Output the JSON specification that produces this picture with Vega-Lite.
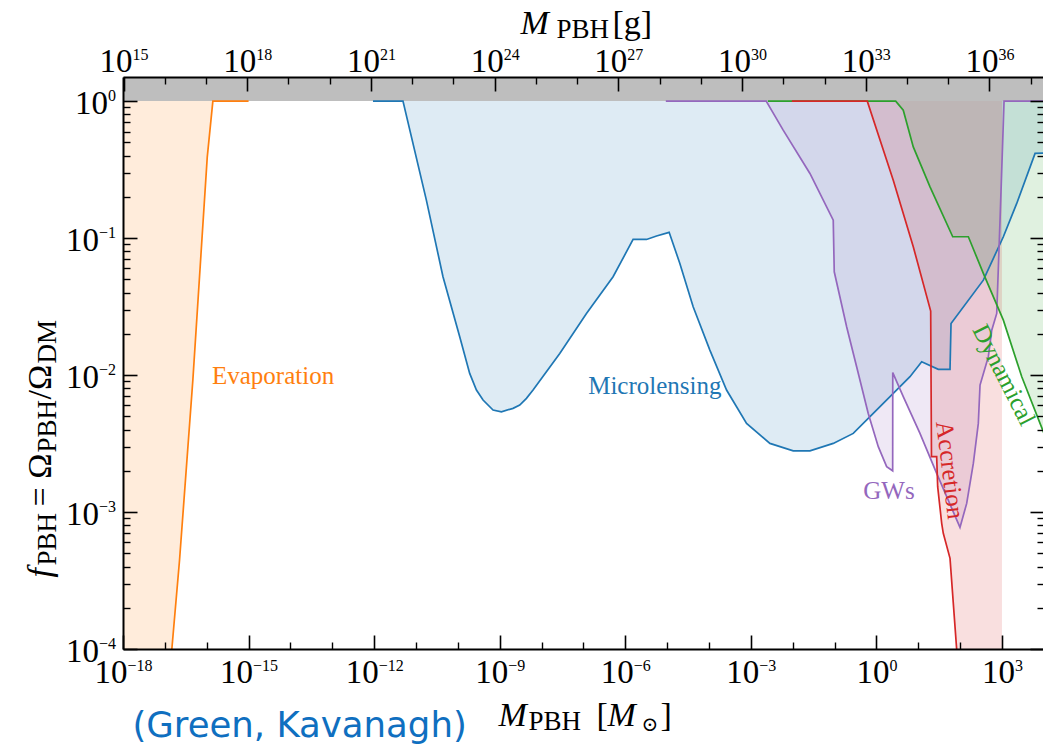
{
  "$schema": "https://vega.github.io/schema/vega-lite/v6.json",
  "width": 921,
  "height": 572,
  "autosize": {"type": "none"},
  "padding": {"left": 123, "top": 77, "right": 0, "bottom": 101},
  "background": "white",
  "config": {"view": {"stroke": null}},
  "datasets": {
    "band": [{"m0": 1e-18, "m1": 1.01e4, "f0": 1, "f1": 1.5}],
    "dummy": [{"m": 1, "f": 0.01}],
    "gdummy": [{"g": 1e20}],
    "labels": [
      {"c": "Evaporation", "m": 3.855e-15, "f": 9.84e-3},
      {"c": "Microlensing", "m": 5.082e-6, "f": 8.318e-3},
      {"c": "GWs", "m": 1.995, "f": 1.422e-3},
      {"c": "Accretion", "m": 57.41, "f": 2.028e-3},
      {"c": "Dynamical", "m": 1119, "f": 0.01}
    ],
    "curves": [
      {"c": "Evaporation", "m": 1e-18, "f": 1e-8},
      {"c": "Evaporation", "m": 1.469e-17, "f": 1e-4},
      {"c": "Evaporation", "m": 2.244e-17, "f": 4.467e-4},
      {"c": "Evaporation", "m": 4.667e-17, "f": 9.204e-3},
      {"c": "Evaporation", "m": 1.03e-16, "f": 0.39},
      {"c": "Evaporation", "m": 1.403e-16, "f": 1},
      {"c": "Evaporation", "m": 1e-15, "f": 1},
      {"c": "Microlensing", "m": 9.376e-13, "f": 1},
      {"c": "Microlensing", "m": 4.887e-12, "f": 1},
      {"c": "Microlensing", "m": 1.77e-11, "f": 0.1892},
      {"c": "Microlensing", "m": 4.416e-11, "f": 0.05224},
      {"c": "Microlensing", "m": 1.109e-10, "f": 0.01905},
      {"c": "Microlensing", "m": 1.919e-10, "f": 0.01028},
      {"c": "Microlensing", "m": 2.78e-10, "f": 7.78e-3},
      {"c": "Microlensing", "m": 4.0e-10, "f": 6.577e-3},
      {"c": "Microlensing", "m": 6.934e-10, "f": 5.559e-3},
      {"c": "Microlensing", "m": 1.099e-9, "f": 5.395e-3},
      {"c": "Microlensing", "m": 2.084e-9, "f": 5.715e-3},
      {"c": "Microlensing", "m": 3.013e-9, "f": 6.039e-3},
      {"c": "Microlensing", "m": 4.355e-9, "f": 6.761e-3},
      {"c": "Microlensing", "m": 6.266e-9, "f": 7.78e-3},
      {"c": "Microlensing", "m": 2.723e-8, "f": 0.01439},
      {"c": "Microlensing", "m": 1.183e-7, "f": 0.02818},
      {"c": "Microlensing", "m": 5.117e-7, "f": 0.05224},
      {"c": "Microlensing", "m": 1.538e-6, "f": 0.09772},
      {"c": "Microlensing", "m": 3.221e-6, "f": 0.09772},
      {"c": "Microlensing", "m": 5.585e-6, "f": 0.1035},
      {"c": "Microlensing", "m": 1.117e-5, "f": 0.1102},
      {"c": "Microlensing", "m": 2.014e-5, "f": 0.06531},
      {"c": "Microlensing", "m": 4.188e-5, "f": 0.03155},
      {"c": "Microlensing", "m": 1.05e-4, "f": 0.01521},
      {"c": "Microlensing", "m": 2.63e-4, "f": 7.78e-3},
      {"c": "Microlensing", "m": 7.907e-4, "f": 4.436e-3},
      {"c": "Microlensing", "m": 2.858e-3, "f": 3.17e-3},
      {"c": "Microlensing", "m": 1.03e-2, "f": 2.799e-3},
      {"c": "Microlensing", "m": 2.582e-2, "f": 2.799e-3},
      {"c": "Microlensing", "m": 9.311e-2, "f": 3.17e-3},
      {"c": "Microlensing", "m": 0.2799, "f": 3.75e-3},
      {"c": "Microlensing", "m": 0.8414, "f": 5.248e-3},
      {"c": "Microlensing", "m": 2.529, "f": 7.345e-3},
      {"c": "Microlensing", "m": 6.339, "f": 9.727e-3},
      {"c": "Microlensing", "m": 12.08, "f": 0.0125},
      {"c": "Microlensing", "m": 30.13, "f": 0.01102},
      {"c": "Microlensing", "m": 57.41, "f": 0.01102},
      {"c": "Microlensing", "m": 60.67, "f": 0.02382},
      {"c": "Microlensing", "m": 358.9, "f": 0.04932},
      {"c": "Microlensing", "m": 1079, "f": 0.1023},
      {"c": "Microlensing", "m": 2254, "f": 0.1791},
      {"c": "Microlensing", "m": 6180, "f": 0.415},
      {"c": "Microlensing", "m": 10233, "f": 0.4169},
      {"c": "GWs", "m": 9.311e-6, "f": 1},
      {"c": "GWs", "m": 2.328e-3, "f": 1},
      {"c": "GWs", "m": 5.929e-3, "f": 0.6138},
      {"c": "GWs", "m": 2.582e-2, "f": 0.2965},
      {"c": "GWs", "m": 9.311e-2, "f": 0.1352},
      {"c": "GWs", "m": 9.84e-2, "f": 0.05675},
      {"c": "GWs", "m": 0.1945, "f": 0.02254},
      {"c": "GWs", "m": 0.3373, "f": 0.01151},
      {"c": "GWs", "m": 0.6383, "f": 5.248e-3},
      {"c": "GWs", "m": 1.109, "f": 2.999e-3},
      {"c": "GWs", "m": 1.758, "f": 2.143e-3},
      {"c": "GWs", "m": 2.449, "f": 2.0e-3},
      {"c": "GWs", "m": 2.46, "f": 0.01042},
      {"c": "GWs", "m": 4.385, "f": 6.95e-3},
      {"c": "GWs", "m": 10.99, "f": 3.75e-3},
      {"c": "GWs", "m": 27.54, "f": 1.914e-3},
      {"c": "GWs", "m": 99.31, "f": 7.727e-4},
      {"c": "GWs", "m": 143.6, "f": 1.156e-3},
      {"c": "GWs", "m": 207.0, "f": 2.265e-3},
      {"c": "GWs", "m": 272.3, "f": 4.436e-3},
      {"c": "GWs", "m": 299.2, "f": 8.453e-3},
      {"c": "GWs", "m": 472.1, "f": 0.01361},
      {"c": "GWs", "m": 570.2, "f": 0.02128},
      {"c": "GWs", "m": 749.9, "f": 0.02818},
      {"c": "GWs", "m": 899.5, "f": 0.1352},
      {"c": "GWs", "m": 1122, "f": 1},
      {"c": "GWs", "m": 10233, "f": 1},
      {"c": "Dynamical", "m": 2.553e-3, "f": 1},
      {"c": "Dynamical", "m": 2.891, "f": 1},
      {"c": "Dynamical", "m": 4.385, "f": 0.859},
      {"c": "Dynamical", "m": 7.603, "f": 0.4634},
      {"c": "Dynamical", "m": 19.1, "f": 0.2366},
      {"c": "Dynamical", "m": 66.68, "f": 0.1023},
      {"c": "Dynamical", "m": 157.4, "f": 0.1023},
      {"c": "Dynamical", "m": 358.9, "f": 0.05521},
      {"c": "Dynamical", "m": 1079, "f": 0.02518},
      {"c": "Dynamical", "m": 2972, "f": 9.727e-3},
      {"c": "Dynamical", "m": 10233, "f": 3.715e-3},
      {"c": "Accretion", "m": 9.572e-3, "f": 1},
      {"c": "Accretion", "m": 0.6053, "f": 1},
      {"c": "Accretion", "m": 2.529, "f": 0.2649},
      {"c": "Accretion", "m": 7.603, "f": 0.0865},
      {"c": "Accretion", "m": 19.82, "f": 0.02931},
      {"c": "Accretion", "m": 20.7, "f": 2.535e-3},
      {"c": "Accretion", "m": 27.54, "f": 2.535e-3},
      {"c": "Accretion", "m": 29.11, "f": 1.531e-3},
      {"c": "Accretion", "m": 36.31, "f": 8.279e-4},
      {"c": "Accretion", "m": 39.63, "f": 6.998e-4},
      {"c": "Accretion", "m": 57.41, "f": 4.592e-4},
      {"c": "Accretion", "m": 82.99, "f": 9.84e-5},
      {"c": "Accretion", "m": 1000, "f": 1e-8}
    ]
  },
  "layer": [
    {
      "layer": [
        {
          "data": {"name": "band"},
          "mark": {"type": "rect", "color": "#bebebe", "clip": true},
          "encoding": {
            "x": {"field": "m0", "type": "quantitative", "scale": {"type": "log", "domain": [1e-18, 1.01e4], "nice": false},
              "axis": {"orient": "bottom", "values": [1e-18, 1e-15, 1e-12, 1e-9, 1e-6, 0.001, 1, 1000], "labels": false,
                "tickSize": -14, "tickWidth": 1.6, "tickColor": "#000", "domain": true, "domainColor": "#000", "domainWidth": 2, "grid": false, "title": null, "zindex": 1}},
            "x2": {"field": "m1"},
            "y": {"field": "f0", "type": "quantitative", "scale": {"type": "log", "domain": [1e-4, 1.5], "nice": false},
              "axis": {"orient": "left", "values": [0.0001, 0.001, 0.01, 0.1, 1], "labels": false,
                "tickSize": -14, "tickWidth": 1.6, "tickColor": "#000", "domain": true, "domainColor": "#000", "domainWidth": 2, "grid": false, "title": null, "zindex": 1}},
            "y2": {"field": "f1"}
          }
        },
        {
          "data": {"name": "curves"},
          "mark": {"type": "area", "fillOpacity": 0.15, "clip": true},
          "encoding": {
            "x": {"field": "m", "type": "quantitative", "scale": {"type": "log", "domain": [1e-18, 1.01e4], "nice": false},
              "axis": {"orient": "bottom", "values": [1e-17, 1e-16, 1e-14, 1e-13, 1e-11, 1e-10, 1e-8, 1e-7, 1e-5, 1e-4, 0.01, 0.1, 10, 100],
                "labels": false, "tickSize": -7, "tickWidth": 1.4, "tickColor": "#000", "domain": false, "grid": false, "title": null, "zindex": 1}},
            "y": {"field": "f", "type": "quantitative", "stack": null, "scale": {"type": "log", "domain": [1e-4, 1.5], "nice": false},
              "axis": {"orient": "left", "values": [0.0002,0.0003,0.0004,0.0005,0.0006,0.0007,0.0008,0.0009,0.002,0.003,0.004,0.005,0.006,0.007,0.008,0.009,0.02,0.03,0.04,0.05,0.06,0.07,0.08,0.09,0.2,0.3,0.4,0.5,0.6,0.7,0.8,0.9],
                "labels": false, "tickSize": -7, "tickWidth": 1.4, "tickColor": "#000", "domain": false, "grid": false, "title": null, "zindex": 1}},
            "y2": {"datum": 1},
            "color": {"field": "c", "type": "nominal", "legend": null,
              "scale": {"domain": ["Evaporation", "Microlensing", "GWs", "Dynamical", "Accretion"], "range": ["#ff7f0e", "#1f77b4", "#9467bd", "#2ca02c", "#d62728"]}}
          }
        },
        {
          "data": {"name": "curves"},
          "mark": {"type": "line", "strokeWidth": 1.7, "clip": true},
          "encoding": {
            "x": {"field": "m", "type": "quantitative", "scale": {"type": "log", "domain": [1e-18, 1.01e4], "nice": false},
              "axis": {"orient": "bottom", "values": [1e-18, 1e-15, 1e-12], "labelExpr": "'10'",
                "labelFont": "Liberation Serif", "labelFontSize": 33, "labelColor": "#000", "labelAlign": "right", "labelBaseline": "alphabetic",
                "labelOffset": 4, "labelPadding": 33, "labelFlush": false, "labelOverlap": false, "labelBound": false,
                "ticks": false, "domain": false, "grid": false, "title": null, "zindex": 1}},
            "y": {"field": "f", "type": "quantitative", "scale": {"type": "log", "domain": [1e-4, 1.5], "nice": false},
              "axis": {"orient": "right", "values": [0.0001, 0.001, 0.01, 0.1, 1], "labels": false,
                "tickSize": -14, "tickWidth": 1.6, "tickColor": "#000", "domain": true, "domainColor": "#000", "domainWidth": 2, "grid": false, "title": null, "zindex": 1}},
            "color": {"field": "c", "type": "nominal", "legend": null}
          }
        },
        {
          "data": {"name": "labels"},
          "transform": [{"filter": "datum.c == 'Evaporation' || datum.c == 'Microlensing' || datum.c == 'GWs'"}],
          "mark": {"type": "text", "font": "Liberation Serif", "fontSize": 25, "align": "center", "baseline": "middle"},
          "encoding": {
            "x": {"field": "m", "type": "quantitative", "scale": {"type": "log", "domain": [1e-18, 1.01e4], "nice": false},
              "axis": {"orient": "bottom", "values": [1e-9, 1e-6, 0.001], "labelExpr": "'10'",
                "labelFont": "Liberation Serif", "labelFontSize": 33, "labelColor": "#000", "labelAlign": "right", "labelBaseline": "alphabetic",
                "labelOffset": 8, "labelPadding": 33, "labelFlush": false, "labelOverlap": false, "labelBound": false,
                "ticks": false, "domain": false, "grid": false, "title": null, "zindex": 1}},
            "y": {"field": "f", "type": "quantitative", "scale": {"type": "log", "domain": [1e-4, 1.5], "nice": false},
              "axis": {"orient": "right", "values": [0.0002,0.0003,0.0004,0.0005,0.0006,0.0007,0.0008,0.0009,0.002,0.003,0.004,0.005,0.006,0.007,0.008,0.009,0.02,0.03,0.04,0.05,0.06,0.07,0.08,0.09,0.2,0.3,0.4,0.5,0.6,0.7,0.8,0.9],
                "labels": false, "tickSize": -7, "tickWidth": 1.4, "tickColor": "#000", "domain": false, "grid": false, "title": null, "zindex": 1}},
            "text": {"field": "c"},
            "color": {"field": "c", "type": "nominal", "legend": null}
          }
        },
        {
          "data": {"name": "labels"},
          "transform": [{"filter": "datum.c == 'Accretion'"}],
          "mark": {"type": "text", "font": "Liberation Serif", "fontSize": 25, "align": "center", "baseline": "middle", "angle": 83},
          "encoding": {
            "x": {"field": "m", "type": "quantitative", "scale": {"type": "log", "domain": [1e-18, 1.01e4], "nice": false},
              "axis": {"orient": "bottom", "values": [1, 1000], "labelExpr": "'10'",
                "labelFont": "Liberation Serif", "labelFontSize": 33, "labelColor": "#000", "labelAlign": "right", "labelBaseline": "alphabetic",
                "labelOffset": 12.5, "labelPadding": 33, "labelFlush": false, "labelOverlap": false, "labelBound": false,
                "ticks": false, "domain": false, "grid": false, "title": null, "zindex": 1}},
            "y": {"field": "f", "type": "quantitative", "scale": {"type": "log", "domain": [1e-4, 1.5], "nice": false},
              "axis": {"orient": "left", "values": [1], "labelExpr": "'10'",
                "labelFont": "Liberation Serif", "labelFontSize": 33, "labelColor": "#000", "labelAlign": "right", "labelBaseline": "alphabetic",
                "labelOffset": 12.5, "labelPadding": 15.5, "labelFlush": false, "labelOverlap": false, "labelBound": false,
                "ticks": false, "domain": false, "grid": false, "title": null, "zindex": 1}},
            "text": {"field": "c"},
            "color": {"field": "c", "type": "nominal", "legend": null}
          }
        },
        {
          "data": {"name": "labels"},
          "transform": [{"filter": "datum.c == 'Dynamical'"}],
          "mark": {"type": "text", "font": "Liberation Serif", "fontSize": 25, "align": "center", "baseline": "middle", "angle": 63},
          "encoding": {
            "x": {"field": "m", "type": "quantitative", "scale": {"type": "log", "domain": [1e-18, 1.01e4], "nice": false},
              "axis": {"orient": "bottom", "values": [1e-18, 1e-15, 1e-12], "labelExpr": "format(round(log(datum.value)/LN10),'d')",
                "labelFont": "Liberation Serif", "labelFontSize": 16, "labelColor": "#000", "labelAlign": "left", "labelBaseline": "alphabetic",
                "labelOffset": 4, "labelPadding": 21.5, "labelFlush": false, "labelOverlap": false, "labelBound": false,
                "ticks": false, "domain": false, "grid": false, "title": null, "zindex": 1}},
            "y": {"field": "f", "type": "quantitative", "scale": {"type": "log", "domain": [1e-4, 1.5], "nice": false},
              "axis": {"orient": "left", "values": [0.0001, 0.001, 0.01, 0.1], "labelExpr": "'10'",
                "labelFont": "Liberation Serif", "labelFontSize": 33, "labelColor": "#000", "labelAlign": "right", "labelBaseline": "alphabetic",
                "labelOffset": 12.5, "labelPadding": 24.5, "labelFlush": false, "labelOverlap": false, "labelBound": false,
                "ticks": false, "domain": false, "grid": false, "title": null, "zindex": 1}},
            "text": {"field": "c"},
            "color": {"field": "c", "type": "nominal", "legend": null}
          }
        },
        {
          "data": {"name": "dummy"},
          "mark": {"type": "point", "opacity": 0},
          "encoding": {
            "x": {"field": "m", "type": "quantitative", "scale": {"type": "log", "domain": [1e-18, 1.01e4], "nice": false},
              "axis": {"orient": "bottom", "values": [1e-9, 1e-6, 0.001], "labelExpr": "format(round(log(datum.value)/LN10),'d')",
                "labelFont": "Liberation Serif", "labelFontSize": 16, "labelColor": "#000", "labelAlign": "left", "labelBaseline": "alphabetic",
                "labelOffset": 8, "labelPadding": 21.5, "labelFlush": false, "labelOverlap": false, "labelBound": false,
                "ticks": false, "domain": false, "grid": false, "title": null, "zindex": 1}},
            "y": {"field": "f", "type": "quantitative", "scale": {"type": "log", "domain": [1e-4, 1.5], "nice": false},
              "axis": {"orient": "left", "values": [0.0001, 0.001, 0.01, 0.1, 1], "labelExpr": "format(round(log(datum.value)/LN10),'d')",
                "labelFont": "Liberation Serif", "labelFontSize": 16, "labelColor": "#000", "labelAlign": "right", "labelBaseline": "alphabetic",
                "labelOffset": -0.5, "labelPadding": 7.5, "labelFlush": false, "labelOverlap": false, "labelBound": false,
                "ticks": false, "domain": false, "grid": false, "title": null, "zindex": 1}}
          }
        },
        {
          "data": {"name": "dummy"},
          "mark": {"type": "point", "opacity": 0},
          "encoding": {
            "x": {"field": "m", "type": "quantitative", "scale": {"type": "log", "domain": [1e-18, 1.01e4], "nice": false},
              "axis": {"orient": "bottom", "values": [1, 1000], "labelExpr": "format(round(log(datum.value)/LN10),'d')",
                "labelFont": "Liberation Serif", "labelFontSize": 16, "labelColor": "#000", "labelAlign": "left", "labelBaseline": "alphabetic",
                "labelOffset": 12.5, "labelPadding": 21.5, "labelFlush": false, "labelOverlap": false, "labelBound": false,
                "ticks": false, "domain": false, "grid": false, "title": null, "zindex": 1}},
            "y": {"field": "f", "type": "quantitative", "scale": {"type": "log", "domain": [1e-4, 1.5], "nice": false},
              "axis": {"orient": "left", "labels": false, "ticks": false, "domain": false, "grid": false, "title": "f",
                "titleFont": "Liberation Serif", "titleFontSize": 34, "titleFontStyle": "italic", "titleFontWeight": "normal", "titleColor": "#000",
                "titleX": -73, "titleY": 500, "titleAlign": "left", "titleBaseline": "alphabetic", "titleAngle": 270, "zindex": 1}}
          }
        },
        {
          "data": {"name": "dummy"},
          "mark": {"type": "point", "opacity": 0},
          "encoding": {
            "x": {"field": "m", "type": "quantitative", "scale": {"type": "log", "domain": [1e-18, 1.01e4], "nice": false},
              "axis": {"orient": "bottom", "labels": false, "ticks": false, "domain": false, "grid": false, "title": "M",
                "titleFont": "Liberation Serif", "titleFontSize": 34, "titleFontStyle": "italic", "titleFontWeight": "normal", "titleColor": "#000",
                "titleX": 375, "titleY": 76, "titleAlign": "left", "titleBaseline": "alphabetic", "titleAngle": 0, "zindex": 1}},
            "y": {"field": "f", "type": "quantitative", "scale": {"type": "log", "domain": [1e-4, 1.5], "nice": false},
              "axis": {"orient": "left", "labels": false, "ticks": false, "domain": false, "grid": false, "title": "PBH",
                "titleFont": "Liberation Serif", "titleFontSize": 27, "titleFontWeight": "normal", "titleColor": "#000",
                "titleX": -68, "titleY": 488, "titleAlign": "left", "titleBaseline": "alphabetic", "titleAngle": 270, "zindex": 1}}
          }
        },
        {
          "data": {"name": "dummy"},
          "mark": {"type": "point", "opacity": 0},
          "encoding": {
            "x": {"field": "m", "type": "quantitative", "scale": {"type": "log", "domain": [1e-18, 1.01e4], "nice": false},
              "axis": {"orient": "bottom", "labels": false, "ticks": false, "domain": false, "grid": false, "title": "PBH",
                "titleFont": "Liberation Serif", "titleFontSize": 27, "titleFontWeight": "normal", "titleColor": "#000",
                "titleX": 405, "titleY": 80, "titleAlign": "left", "titleBaseline": "alphabetic", "titleAngle": 0, "zindex": 1}},
            "y": {"field": "f", "type": "quantitative", "scale": {"type": "log", "domain": [1e-4, 1.5], "nice": false},
              "axis": {"orient": "left", "labels": false, "ticks": false, "domain": false, "grid": false, "title": "= Ω",
                "titleFont": "Liberation Serif", "titleFontSize": 34, "titleFontWeight": "normal", "titleColor": "#000",
                "titleX": -73, "titleY": 429, "titleAlign": "left", "titleBaseline": "alphabetic", "titleAngle": 270, "zindex": 1}}
          }
        },
        {
          "data": {"name": "dummy"},
          "mark": {"type": "point", "opacity": 0},
          "encoding": {
            "x": {"field": "m", "type": "quantitative", "scale": {"type": "log", "domain": [1e-18, 1.01e4], "nice": false},
              "axis": {"orient": "bottom", "labels": false, "ticks": false, "domain": false, "grid": false, "title": "[",
                "titleFont": "Liberation Serif", "titleFontSize": 34, "titleFontWeight": "normal", "titleColor": "#000",
                "titleX": 473, "titleY": 76, "titleAlign": "left", "titleBaseline": "alphabetic", "titleAngle": 0, "zindex": 1}},
            "y": {"field": "f", "type": "quantitative", "scale": {"type": "log", "domain": [1e-4, 1.5], "nice": false},
              "axis": {"orient": "left", "labels": false, "ticks": false, "domain": false, "grid": false, "title": "PBH",
                "titleFont": "Liberation Serif", "titleFontSize": 27, "titleFontWeight": "normal", "titleColor": "#000",
                "titleX": -68, "titleY": 375, "titleAlign": "left", "titleBaseline": "alphabetic", "titleAngle": 270, "zindex": 1}}
          }
        },
        {
          "data": {"name": "dummy"},
          "mark": {"type": "point", "opacity": 0},
          "encoding": {
            "x": {"field": "m", "type": "quantitative", "scale": {"type": "log", "domain": [1e-18, 1.01e4], "nice": false},
              "axis": {"orient": "bottom", "labels": false, "ticks": false, "domain": false, "grid": false, "title": "M",
                "titleFont": "Liberation Serif", "titleFontSize": 34, "titleFontStyle": "italic", "titleFontWeight": "normal", "titleColor": "#000",
                "titleX": 484, "titleY": 76, "titleAlign": "left", "titleBaseline": "alphabetic", "titleAngle": 0, "zindex": 1}},
            "y": {"field": "f", "type": "quantitative", "scale": {"type": "log", "domain": [1e-4, 1.5], "nice": false},
              "axis": {"orient": "left", "labels": false, "ticks": false, "domain": false, "grid": false, "title": "/Ω",
                "titleFont": "Liberation Serif", "titleFontSize": 34, "titleFontWeight": "normal", "titleColor": "#000",
                "titleX": -73, "titleY": 322, "titleAlign": "left", "titleBaseline": "alphabetic", "titleAngle": 270, "zindex": 1}}
          }
        },
        {
          "data": {"name": "dummy"},
          "mark": {"type": "point", "opacity": 0},
          "encoding": {
            "x": {"field": "m", "type": "quantitative", "scale": {"type": "log", "domain": [1e-18, 1.01e4], "nice": false},
              "axis": {"orient": "bottom", "labels": false, "ticks": false, "domain": false, "grid": false, "title": "⊙",
                "titleFont": "DejaVu Serif", "titleFontSize": 20, "titleFontWeight": "normal", "titleColor": "#000",
                "titleX": 518, "titleY": 81, "titleAlign": "left", "titleBaseline": "alphabetic", "titleAngle": 0, "zindex": 1}},
            "y": {"field": "f", "type": "quantitative", "scale": {"type": "log", "domain": [1e-4, 1.5], "nice": false},
              "axis": {"orient": "left", "labels": false, "ticks": false, "domain": false, "grid": false, "title": "DM",
                "titleFont": "Liberation Serif", "titleFontSize": 27, "titleFontWeight": "normal", "titleColor": "#000",
                "titleX": -68, "titleY": 286, "titleAlign": "left", "titleBaseline": "alphabetic", "titleAngle": 270, "zindex": 1}}
          }
        },
        {
          "data": {"name": "dummy"},
          "mark": {"type": "point", "opacity": 0},
          "encoding": {
            "x": {"field": "m", "type": "quantitative", "scale": {"type": "log", "domain": [1e-18, 1.01e4], "nice": false},
              "axis": {"orient": "bottom", "labels": false, "ticks": false, "domain": false, "grid": false, "title": "]",
                "titleFont": "Liberation Serif", "titleFontSize": 34, "titleFontWeight": "normal", "titleColor": "#000",
                "titleX": 537, "titleY": 76, "titleAlign": "left", "titleBaseline": "alphabetic", "titleAngle": 0, "zindex": 1}},
            "y": {"field": "f", "type": "quantitative", "scale": {"type": "log", "domain": [1e-4, 1.5], "nice": false}, "axis": null}
          }
        },
        {
          "data": {"name": "dummy"},
          "mark": {"type": "point", "opacity": 0},
          "encoding": {
            "x": {"field": "m", "type": "quantitative", "scale": {"type": "log", "domain": [1e-18, 1.01e4], "nice": false},
              "axis": {"orient": "bottom", "labels": false, "ticks": false, "domain": false, "grid": false, "title": "(Green, Kavanagh)",
                "titleFont": "DejaVu Sans", "titleFontSize": 35.5, "titleFontWeight": "normal", "titleColor": "#0f6fc0",
                "titleX": 9, "titleY": 87, "titleAlign": "left", "titleBaseline": "alphabetic", "titleAngle": 0, "zindex": 1}},
            "y": {"field": "f", "type": "quantitative", "scale": {"type": "log", "domain": [1e-4, 1.5], "nice": false}, "axis": null}
          }
        }
      ],
      "resolve": {"axis": {"x": "independent", "y": "independent"}}
    },
    {
      "layer": [
        {
          "data": {"name": "gdummy"},
          "mark": {"type": "point", "opacity": 0},
          "encoding": {
            "x": {"field": "g", "type": "quantitative", "scale": {"type": "log", "domain": [9.7e14, 2.1e37], "nice": false},
              "axis": {"orient": "top", "values": [1e15, 1e18, 1e21, 1e24, 1e27, 1e30, 1e33, 1e36], "labels": false,
                "tickSize": -14, "tickWidth": 1.6, "tickColor": "#000", "domain": true, "domainColor": "#000", "domainWidth": 2, "grid": false, "title": null, "zindex": 1}}
          }
        },
        {
          "data": {"name": "gdummy"},
          "mark": {"type": "point", "opacity": 0},
          "encoding": {
            "x": {"field": "g", "type": "quantitative", "scale": {"type": "log", "domain": [9.7e14, 2.1e37], "nice": false},
              "axis": {"orient": "top", "values": [1e16, 1e17, 1e19, 1e20, 1e22, 1e23, 1e25, 1e26, 1e28, 1e29, 1e31, 1e32, 1e34, 1e35, 1e37],
                "labels": false, "tickSize": -7, "tickWidth": 1.4, "tickColor": "#000", "domain": false, "grid": false, "title": null, "zindex": 1}}
          }
        },
        {
          "data": {"name": "gdummy"},
          "mark": {"type": "point", "opacity": 0},
          "encoding": {
            "x": {"field": "g", "type": "quantitative", "scale": {"type": "log", "domain": [9.7e14, 2.1e37], "nice": false},
              "axis": {"orient": "top", "values": [1e15, 1e18, 1e21, 1e24, 1e27, 1e30, 1e33, 1e36], "labelExpr": "'10'",
                "labelFont": "Liberation Serif", "labelFontSize": 33, "labelColor": "#000", "labelAlign": "right", "labelBaseline": "alphabetic",
                "labelOffset": 8.5, "labelPadding": 6, "labelFlush": false, "labelOverlap": false, "labelBound": false,
                "ticks": false, "domain": false, "grid": false, "title": null, "zindex": 1}}
          }
        },
        {
          "data": {"name": "gdummy"},
          "mark": {"type": "point", "opacity": 0},
          "encoding": {
            "x": {"field": "g", "type": "quantitative", "scale": {"type": "log", "domain": [9.7e14, 2.1e37], "nice": false},
              "axis": {"orient": "top", "values": [1e15, 1e18, 1e21, 1e24, 1e27, 1e30, 1e33, 1e36], "labelExpr": "format(round(log(datum.value)/LN10),'d')",
                "labelFont": "Liberation Serif", "labelFontSize": 16, "labelColor": "#000", "labelAlign": "left", "labelBaseline": "alphabetic",
                "labelOffset": 8.5, "labelPadding": 17.5, "labelFlush": false, "labelOverlap": false, "labelBound": false,
                "ticks": false, "domain": false, "grid": false, "title": null, "zindex": 1}}
          }
        },
        {
          "data": {"name": "gdummy"},
          "mark": {"type": "point", "opacity": 0},
          "encoding": {
            "x": {"field": "g", "type": "quantitative", "scale": {"type": "log", "domain": [9.7e14, 2.1e37], "nice": false},
              "axis": {"orient": "top", "labels": false, "ticks": false, "domain": false, "grid": false, "title": "M",
                "titleFont": "Liberation Serif", "titleFontSize": 34, "titleFontStyle": "italic", "titleFontWeight": "normal", "titleColor": "#000",
                "titleX": 397, "titleY": -44, "titleAlign": "left", "titleBaseline": "alphabetic", "titleAngle": 0, "zindex": 1}}
          }
        },
        {
          "data": {"name": "gdummy"},
          "mark": {"type": "point", "opacity": 0},
          "encoding": {
            "x": {"field": "g", "type": "quantitative", "scale": {"type": "log", "domain": [9.7e14, 2.1e37], "nice": false},
              "axis": {"orient": "top", "labels": false, "ticks": false, "domain": false, "grid": false, "title": "PBH",
                "titleFont": "Liberation Serif", "titleFontSize": 27, "titleFontWeight": "normal", "titleColor": "#000",
                "titleX": 433, "titleY": -40, "titleAlign": "left", "titleBaseline": "alphabetic", "titleAngle": 0, "zindex": 1}}
          }
        },
        {
          "data": {"name": "gdummy"},
          "mark": {"type": "point", "opacity": 0},
          "encoding": {
            "x": {"field": "g", "type": "quantitative", "scale": {"type": "log", "domain": [9.7e14, 2.1e37], "nice": false},
              "axis": {"orient": "top", "labels": false, "ticks": false, "domain": false, "grid": false, "title": "[g]",
                "titleFont": "Liberation Serif", "titleFontSize": 34, "titleFontWeight": "normal", "titleColor": "#000",
                "titleX": 489, "titleY": -44, "titleAlign": "left", "titleBaseline": "alphabetic", "titleAngle": 0, "zindex": 1}}
          }
        }
      ],
      "resolve": {"axis": {"x": "independent"}}
    }
  ],
  "resolve": {"scale": {"x": "independent"}, "axis": {"x": "independent", "y": "independent"}}
}
